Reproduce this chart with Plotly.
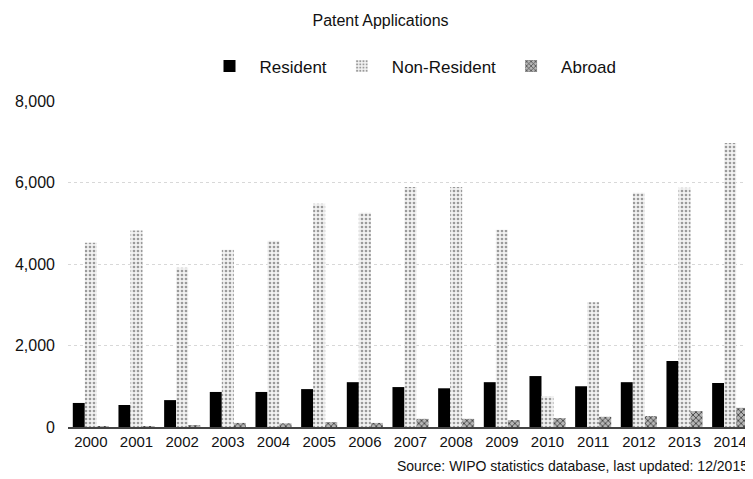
import plotly.graph_objects as go

years = [str(y) for y in range(2000, 2015)]
resident = [590, 540, 660, 860, 860, 930, 1100, 980, 950, 1100, 1250, 1000, 1100, 1620, 1080]
non_resident = [4520, 4820, 3910, 4350, 4570, 5480, 5260, 5890, 5890, 4840, 760, 3060, 5750, 5870, 6970]
abroad = [20, 10, 30, 100, 90, 120, 100, 200, 200, 170, 220, 250, 270, 390, 470]
y_ticks = [0, 2000, 4000, 6000, 8000]

font = "Liberation Sans, Arial, sans-serif"

fig = go.Figure()
fig.add_trace(go.Bar(name="Resident", x=years, y=resident,
                     marker=dict(color="#000000", line=dict(width=0))))
fig.add_trace(go.Bar(name="Non-Resident", x=years, y=non_resident,
                     marker=dict(color="#e4e4e4", line=dict(width=0),
                                 pattern=dict(shape=".", fgcolor="#9a9a9a", bgcolor="#f2f2f2",
                                              size=4, solidity=0.35, fillmode="replace"))))
fig.add_trace(go.Bar(name="Abroad", x=years, y=abroad,
                     marker=dict(color="#8a8a8a", line=dict(width=0),
                                 pattern=dict(shape="x", fgcolor="#444444", bgcolor="#b5b5b5",
                                              size=4, solidity=0.4, fillmode="replace"))))

fig.update_layout(
    width=745, height=471,
    paper_bgcolor="white", plot_bgcolor="white",
    barmode="group", bargap=0.21, bargroupgap=0,
    margin=dict(l=60, r=0, t=93, b=52),
    font=dict(family=font, size=15, color="#111111"),
    title=dict(text="Patent Applications", x=0.5, xanchor="center", y=0.9745, yanchor="middle",
               font=dict(family=font, size=16, color="#111111")),
    legend=dict(orientation="h", x=0.5, xanchor="center", y=1.106, yanchor="middle",
                font=dict(family=font, size=17), itemwidth=50,
                bgcolor="rgba(0,0,0,0)"),
    showlegend=True,
)
fig.update_xaxes(showgrid=False, showline=True, linecolor="#444444", linewidth=1.5,
                 ticks="", tickfont=dict(family=font, size=15))
fig.update_yaxes(range=[0, 8000], tickvals=y_ticks, tickformat=",d",
                 showgrid=True, gridcolor="#d8d8d8", griddash="dot", gridwidth=1,
                 zeroline=False, showline=False, ticks="", ticklabelstandoff=12,
                 tickfont=dict(family=font, size=16))
fig.add_annotation(text="Source: WIPO statistics database, last updated: 12/2015",
                   xref="paper", yref="paper", x=0.995, xanchor="right", y=-0.1196, yanchor="middle",
                   showarrow=False, font=dict(family=font, size=14, color="#111111"))

fig.write_html("out.html")
